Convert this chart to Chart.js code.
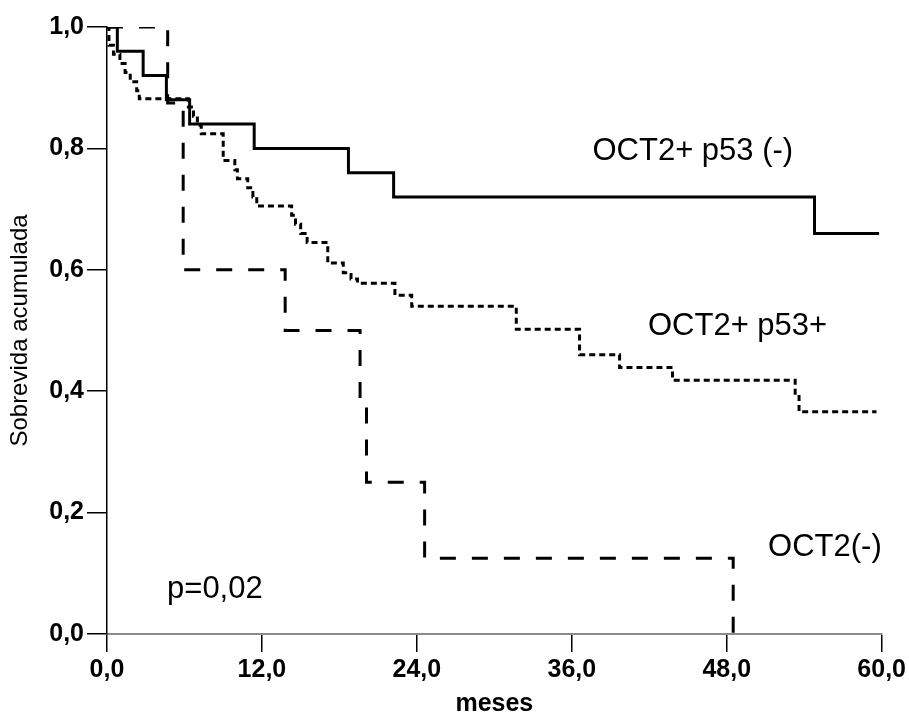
<!DOCTYPE html>
<html>
<head>
<meta charset="utf-8">
<script src="https://cdn.jsdelivr.net/npm/chart.js@4/dist/chart.umd.min.js"></script>
<style>
  html, body { margin: 0; padding: 0; background: #ffffff; }
  #wrap { width: 909px; height: 717px; }
</style>
</head>
<body>
<div id="wrap"><canvas id="c" width="909" height="717"></canvas></div>
<script>
// ---- data ----
// OCT2+ p53 (-)  (solid)
const solidMonths = [0, 0.8, 2.8, 4.6, 6.4, 11.4, 18.7, 22.2, 54.8, 59.8];
const solidSurv   = [1.0, 0.96, 0.92, 0.88, 0.84, 0.80, 0.76, 0.72, 0.66, 0.66];

// OCT2(-)  (dashed)
const dashedMonths = [0, 4.7, 5.9, 13.8, 19.6, 20.1, 24.6, 48.5];
const dashedSurv   = [1.0, 0.875, 0.6, 0.5, 0.375, 0.25, 0.125, 0.0];

// OCT2+ p53+  (dotted)
const dottedMonths = [0, 0.15, 0.5, 1.0, 1.4, 1.8, 2.3, 2.5, 6.3, 6.7, 7.0, 7.3, 9.0, 9.9, 10.1, 10.9, 11.3, 11.6,
                      14.3, 14.6, 15.0, 15.5, 17.1, 18.3, 18.9, 19.4, 22.3, 23.6, 31.7, 36.6, 39.7, 43.8, 53.3, 53.6, 59.6];
const dottedSurv   = [1.0, 0.97, 0.955, 0.94, 0.925, 0.91, 0.895, 0.882, 0.868, 0.853, 0.838, 0.824, 0.78, 0.765, 0.75, 0.735, 0.72, 0.705,
                      0.69, 0.675, 0.66, 0.645, 0.611, 0.595, 0.585, 0.578, 0.558, 0.54, 0.502, 0.46, 0.439, 0.418, 0.394, 0.366, 0.366];

// tick labels
const xTickLabels = ['0,0', '12,0', '24,0', '36,0', '48,0', '60,0'];
const yTickLabels = ['0,0', '0,2', '0,4', '0,6', '0,8', '1,0'];

// text labels inside the plot
const noteTexts  = ['OCT2+ p53 (-)', 'OCT2+ p53+', 'OCT2(-)', 'p=0,02'];
const noteMonths = [37.6, 41.9, 51.2, 4.65];
const noteSurv   = [0.795, 0.507, 0.142, 0.074];

// ---- build ----
function pts(xs, ys) { return xs.map((x, i) => ({ x: x, y: ys[i] })); }

const notesPlugin = {
  id: 'notes',
  afterDatasetsDraw(chart) {
    const { ctx, scales } = chart;
    ctx.save();
    ctx.fillStyle = '#000';
    ctx.font = '31px "Liberation Sans", Arial, sans-serif';
    ctx.textAlign = 'left';
    ctx.textBaseline = 'middle';
    noteTexts.forEach((t, i) => {
      ctx.fillText(t, scales.x.getPixelForValue(noteMonths[i]), scales.y.getPixelForValue(noteSurv[i]));
    });
    ctx.restore();
  }
};

const common = { pointRadius: 0, borderColor: '#000', fill: false, stepped: 'before', tension: 0, borderWidth: 3, borderCapStyle: 'butt' };

new Chart(document.getElementById('c'), {
  type: 'line',
  data: {
    datasets: [
      Object.assign({ label: 'OCT2+ p53 (-)', data: pts(solidMonths, solidSurv) }, common),
      Object.assign({ label: 'OCT2+ p53+', data: pts(dottedMonths, dottedSurv), borderDash: [6, 4] }, common),
      Object.assign({ label: 'OCT2(-)', data: pts(dashedMonths, dashedSurv), borderDash: [16, 16] }, common)
    ]
  },
  options: {
    responsive: false,
    animation: false,
    events: [],
    layout: { padding: { top: 27, right: 27, left: 0, bottom: 0 } },
    plugins: { legend: { display: false }, tooltip: { enabled: false } },
    scales: {
      x: {
        type: 'linear',
        min: 0, max: 60,
        afterFit(scale) { scale.height = 83; },
        border: { display: true, color: '#8a8a8a', width: 2 },
        grid: { drawOnChartArea: false, drawTicks: true, tickLength: 18, color: '#000', lineWidth: 1.5 },
        ticks: {
          stepSize: 12, padding: 3, color: '#000', maxRotation: 0,
          font: { family: '"Liberation Sans", Arial, sans-serif', size: 25, weight: 'bold' },
          callback: (v) => xTickLabels[Math.round(v / 12)]
        },
        title: { display: true, text: 'meses', color: '#000', padding: { top: 0, bottom: 0 },
                 font: { family: '"Liberation Sans", Arial, sans-serif', size: 25, weight: 'bold', lineHeight: 1 } }
      },
      y: {
        type: 'linear',
        min: 0, max: 1,
        afterFit(scale) { scale.width = 107; },
        border: { display: true, color: '#000', width: 1.5 },
        grid: { drawOnChartArea: false, drawTicks: true, tickLength: 20, color: '#000', lineWidth: 1.5 },
        ticks: {
          stepSize: 0.2, padding: 3, color: '#000',
          font: { family: '"Liberation Sans", Arial, sans-serif', size: 25, weight: 'bold' },
          callback: (v) => yTickLabels[Math.round(v / 0.2)]
        },
        title: { display: true, text: 'Sobrevida acumulada', color: '#000', padding: { top: 6, bottom: 0 },
                 font: { family: '"Liberation Sans", Arial, sans-serif', size: 24, weight: 'normal', lineHeight: 1.2 } }
      }
    }
  },
  plugins: [notesPlugin]
});
</script>
</body>
</html>
